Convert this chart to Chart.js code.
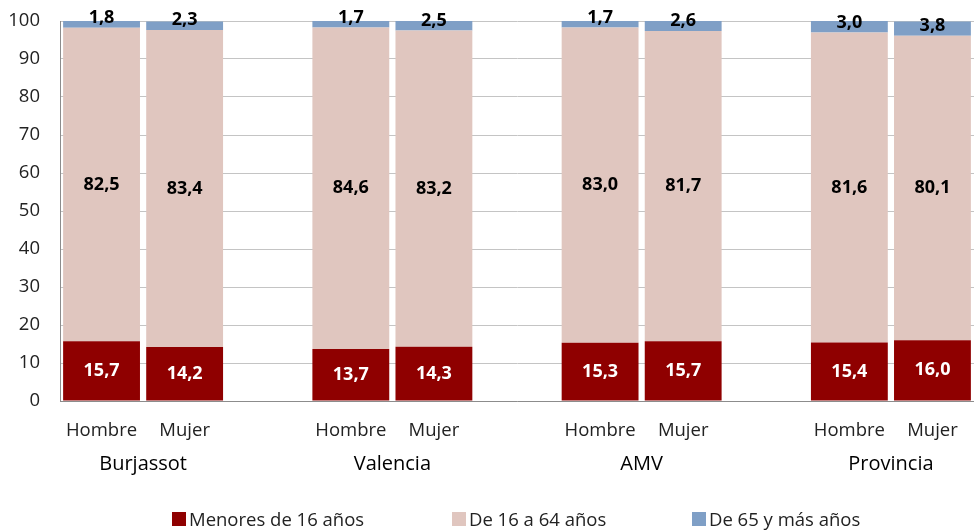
<!DOCTYPE html>
<html>
<head>
<meta charset="utf-8">
<script src="https://cdn.jsdelivr.net/npm/chart.js@4/dist/chart.umd.min.js"></script>
<style>
  html, body { margin: 0; padding: 0; background: #fff; }
  #wrap { position: relative; width: 974px; height: 532px; }
  #legend {
    position: absolute; left: 0; top: 507px; width: 974px; height: 24px;
    font-family: "Open Sans", sans-serif; font-size: 18.5px; color: #222;
  }
  #legend span.item { position: absolute; top: 0; display: flex; align-items: center; line-height: 24px; }
  #legend span.box { width: 14px; height: 14px; margin-right: 3px; display: inline-block; }
</style>
</head>
<body>
<div id="wrap">
  <canvas id="chart" width="974" height="532"></canvas>
  <div id="legend"></div>
</div>
<script>
const categories = ["Hombre", "Mujer", "", "Hombre", "Mujer", "", "Hombre", "Mujer", "", "Hombre", "Mujer"];
const groups = ["Burjassot", "Valencia", "AMV", "Provincia"];
const seriesNames = ["Menores de 16 años", "De 16 a 64 años", "De 65 y más años"];
const menores16 = [15.7, 14.2, null, 13.7, 14.3, null, 15.3, 15.7, null, 15.4, 16.0];
const de16a64 = [82.5, 83.4, null, 84.6, 83.2, null, 83.0, 81.7, null, 81.6, 80.1];
const mas65 = [1.8, 2.3, null, 1.7, 2.5, null, 1.7, 2.6, null, 3.0, 3.8];
const yTicks = [0, 10, 20, 30, 40, 50, 60, 70, 80, 90, 100];

const colors = ["#8f0000", "#e0c6bf", "#7f9fc6"];
const labelColors = ["#ffffff", "#000000", "#000000"];
const FONT = "'Open Sans', sans-serif";

// value labels inside each segment
const valueLabels = {
  id: "valueLabels",
  afterDatasetsDraw(chart) {
    const ctx = chart.ctx;
    ctx.save();
    ctx.font = "bold 18px " + FONT;
    ctx.textAlign = "center";
    ctx.textBaseline = "middle";
    chart.data.datasets.forEach((ds, i) => {
      chart.getDatasetMeta(i).data.forEach((bar, j) => {
        const v = ds.data[j];
        if (v == null) return;
        let y = (bar.y + bar.base) / 2;
        if (i === 2) y = Math.min(y, bar.base - 10);
        ctx.fillStyle = labelColors[i];
        ctx.fillText(v.toFixed(1).replace(".", ","), bar.x, y);
      });
    });
    ctx.restore();
  }
};

// group names under each pair of bars
const groupLabels = {
  id: "groupLabels",
  afterDraw(chart) {
    const ctx = chart.ctx;
    const x = chart.scales.x;
    ctx.save();
    ctx.font = "20px " + FONT;
    ctx.fillStyle = "#000";
    ctx.textAlign = "center";
    ctx.textBaseline = "middle";
    groups.forEach((g, k) => {
      const cx = (x.getPixelForValue(k * 3) + x.getPixelForValue(k * 3 + 1)) / 2;
      ctx.fillText(g, cx, 464);
    });
    ctx.restore();
  }
};

new Chart(document.getElementById("chart").getContext("2d"), {
  type: "bar",
  data: {
    labels: categories,
    datasets: [
      { label: seriesNames[0], data: menores16, backgroundColor: colors[0] },
      { label: seriesNames[1], data: de16a64, backgroundColor: colors[1] },
      { label: seriesNames[2], data: mas65, backgroundColor: colors[2] }
    ]
  },
  options: {
    responsive: false,
    animation: false,
    layout: { padding: { top: 21, right: 0, bottom: 51, left: 0 } },
    datasets: { bar: { barPercentage: 1, categoryPercentage: 0.925 } },
    plugins: { legend: { display: false }, tooltip: { enabled: false } },
    scales: {
      x: {
        stacked: true,
        grid: { display: false },
        border: { color: "#8c8c8c" },
        ticks: { font: { family: FONT, size: 18.5 }, color: "#222", padding: 11, maxRotation: 0 },
        afterFit(s) { s.height = 80; s.paddingLeft = 0; s.paddingRight = 0; }
      },
      y: {
        stacked: true,
        min: 0,
        max: 100,
        afterBuildTicks(s) { s.ticks = yTicks.map(v => ({ value: v })); },
        grid: { color: "#c4c4c4", drawTicks: false },
        border: { color: "#8c8c8c" },
        ticks: { font: { family: FONT, size: 18.5 }, color: "#222", padding: 20 },
        afterFit(s) { s.width = 60; s.paddingTop = 0; s.paddingBottom = 0; }
      }
    }
  },
  plugins: [valueLabels, groupLabels]
});

// legend as html
const legendPos = [172, 452, 692];
const legend = document.getElementById("legend");
seriesNames.forEach((name, i) => {
  const item = document.createElement("span");
  item.className = "item";
  item.style.left = legendPos[i] + "px";
  const box = document.createElement("span");
  box.className = "box";
  box.style.background = colors[i];
  item.appendChild(box);
  item.appendChild(document.createTextNode(name));
  legend.appendChild(item);
});
</script>
</body>
</html>
